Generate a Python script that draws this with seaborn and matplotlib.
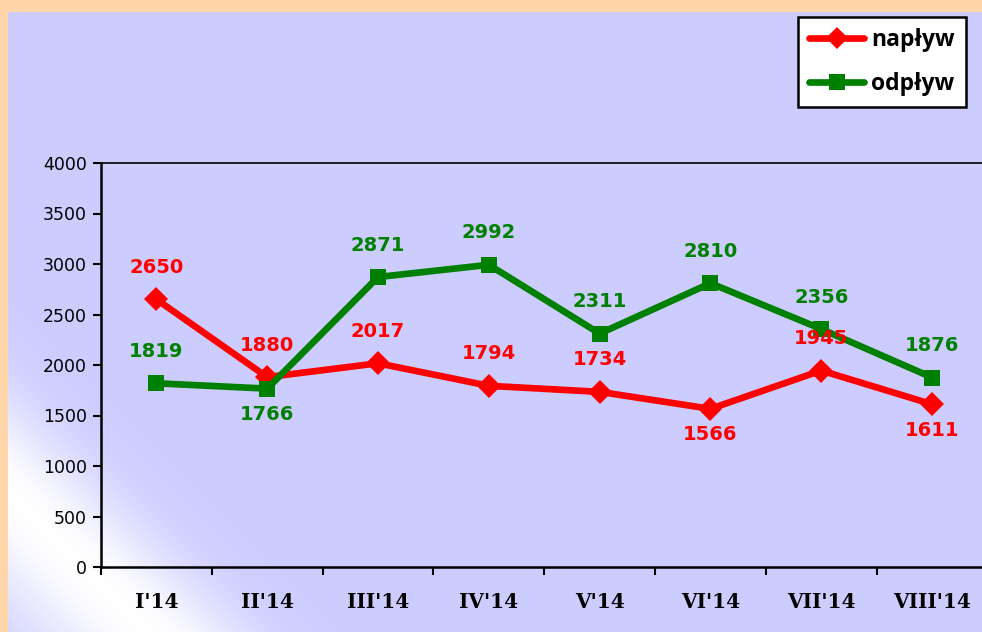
import numpy as np
import pandas as pd
import seaborn as sns
import matplotlib.pyplot as plt
from matplotlib.colors import to_rgb

# --- data ---
months = ["I'14", "II'14", "III'14", "IV'14", "V'14", "VI'14", "VII'14", "VIII'14"]
naplyw = [2650, 1880, 2017, 1794, 1734, 1566, 1945, 1611]
odplyw = [1819, 1766, 2871, 2992, 2311, 2810, 2356, 1876]
# label placement: 1 = above the point, -1 = below
naplyw_pos = [1, 1, 1, 1, 1, -1, 1, -1]
odplyw_pos = [1, -1, 1, 1, 1, 1, 1, 1]

red = "#FF0000"
green = "#008000"
lav = "#CCCCFF"
peach = "#FFD5AA"

sns.set_style("white")
plt.rcParams['font.family'] = ['DejaVu Sans']
plt.rcParams['text.color'] = 'black'
plt.rcParams['xtick.color'] = 'black'
plt.rcParams['ytick.color'] = 'black'

fig = plt.figure(figsize=(9.82, 6.32), dpi=100)
fig.patch.set_facecolor(peach)

# lavender panel with a soft diagonal white band near the bottom left corner
bg = fig.add_axes([8 / 982, 0, 1 - 8 / 982, 1 - 12 / 632])
bg.set_axis_off()
h, w = 620, 974
yy, xx = np.mgrid[0:h, 0:w]
d = (xx + yy).astype(float)  # distance from the bottom-left corner
band = 140.0
sig = np.where(d < band, 120.0, 95.0)
white = np.exp(-((d - band) / sig) ** 2)
lv = np.array(to_rgb(lav))
img = np.ones((h, w, 3)) * white[..., None] + lv * (1 - white[..., None])
bg.imshow(img, aspect="auto", extent=[0, 1, 0, 1], origin="lower", interpolation="bilinear")
bg.set_xlim(0, 1)
bg.set_ylim(0, 1)

ax = fig.add_axes([101 / 982, 1 - 567 / 632, (987.5 - 101) / 982, (567 - 163) / 632])
ax.patch.set_alpha(0)

x = np.arange(len(months))
df = pd.DataFrame({"x": np.concatenate([x, x]),
                   "val": naplyw + odplyw,
                   "series": ["napływ"] * len(x) + ["odpływ"] * len(x)})

sns.lineplot(data=df, x="x", y="val", hue="series", style="series",
             palette={"napływ": red, "odpływ": green},
             markers={"napływ": "D", "odpływ": "s"}, dashes=False,
             linewidth=4.8, markersize=12, markeredgewidth=0, ax=ax)

for vals, pos, col in [(naplyw, naplyw_pos, red), (odplyw, odplyw_pos, green)]:
    for i, (v, p) in enumerate(zip(vals, pos)):
        off = 32 if p > 0 else -26
        ax.annotate(str(v), (i, v), xytext=(0, off), textcoords="offset pixels",
                    ha="center", va="center", color=col, fontsize=14,
                    fontweight="bold")

ax.set_xlim(-0.5, len(months) - 0.5)
ax.set_ylim(0, 4000)
ax.set_yticks(range(0, 4001, 500))
ax.set_xticks(x)
ax.set_xticklabels(months, family="DejaVu Serif", fontweight="bold", fontsize=14.5)
ax.set_xticks(np.arange(-0.5, len(months), 1), minor=True)
ax.tick_params(axis="x", which="major", length=0, pad=18)
ax.tick_params(axis="x", which="minor", length=6, width=1.5, direction="out", bottom=True)
ax.tick_params(axis="y", length=6, width=1.5, direction="out", left=True, labelsize=12.5, pad=4)
ax.set_xlabel("")
ax.set_ylabel("")
for s in ax.spines.values():
    s.set_visible(True)
    s.set_color("black")
    s.set_linewidth(1.8)
ax.spines["top"].set_linewidth(1.2)

handles, labels = ax.get_legend_handles_labels()
for hd in handles:
    hd.set_markersize(11)
leg = fig.legend(handles, labels, loc="upper left",
                 bbox_to_anchor=(798 / 982, 1 - 17 / 632),
                 prop={"family": "Open Sans", "weight": "bold", "size": 16.5},
                 frameon=True, fancybox=False, edgecolor="black",
                 facecolor="white", framealpha=1, handlelength=2.4,
                 borderpad=0.5, labelspacing=0.85, handletextpad=0.3,
                 borderaxespad=0)
leg.get_frame().set_linewidth(1.8)
ax.get_legend().remove()

fig.savefig("out.png", dpi=100, facecolor=fig.get_facecolor())
